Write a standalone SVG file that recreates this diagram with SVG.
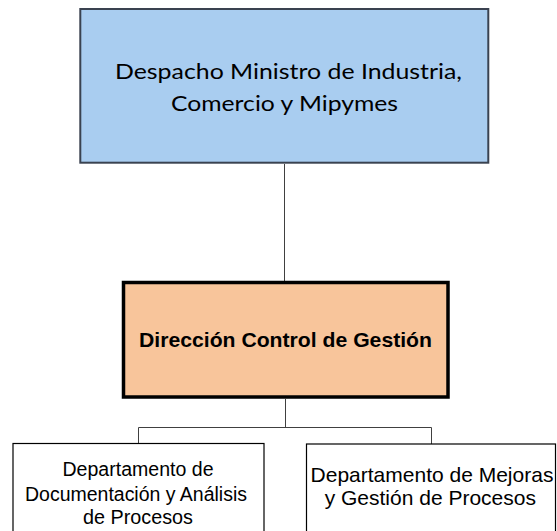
<svg xmlns="http://www.w3.org/2000/svg" width="557" height="531" viewBox="0 0 557 531">
<style>
.conn{stroke:#404040;stroke-width:1;fill:none}
.top{fill:#a9cdf0;stroke:#3a4250;stroke-width:2}
.mid{fill:#f8c59b;stroke:#000;stroke-width:3.5}
.dept{fill:#fff;stroke:#000;stroke-width:1.2}
.t1{font-family:Lato,"Open Sans",sans-serif;font-size:22px;fill:#000;text-anchor:middle}
.t2{font-family:"Liberation Sans",Arial,sans-serif;font-size:21px;font-weight:bold;fill:#000;text-anchor:middle}
.t3{font-family:"Liberation Sans",Arial,sans-serif;font-size:20px;fill:#000;text-anchor:middle}
.t4{font-family:"Liberation Sans",Arial,sans-serif;font-size:21px;fill:#000;text-anchor:middle}
</style>
<rect width="557" height="531" fill="#fff"/>
<g id="connectors">
<line class="conn" x1="284.5" y1="164" x2="284.5" y2="281"/>
<polyline class="conn" points="285.5,399 285.5,427.5"/>
<polyline class="conn" points="138.5,443.5 138.5,427.5 431.5,427.5 431.5,444"/>
</g>
<g id="despacho">
<rect class="top" x="80.3" y="9" width="408" height="153.7"/>
<text class="t1" x="288.5" y="79" textLength="347" lengthAdjust="spacingAndGlyphs">Despacho Ministro de Industria,</text>
<text class="t1" x="284.5" y="110.5" textLength="227" lengthAdjust="spacingAndGlyphs">Comercio y Mipymes</text>
</g>
<g id="direccion">
<rect class="mid" x="123.5" y="282.5" width="324.5" height="114.5"/>
<text class="t2" x="285.5" y="346.7" textLength="293" lengthAdjust="spacingAndGlyphs">Dirección Control de Gestión</text>
</g>
<g id="dept-documentacion">
<rect class="dept" x="13" y="443.5" width="251" height="100"/>
<text class="t3" x="138" y="476.4" textLength="151" lengthAdjust="spacingAndGlyphs">Departamento de</text>
<text class="t3" x="136" y="500.7" textLength="222" lengthAdjust="spacingAndGlyphs">Documentación y Análisis</text>
<text class="t3" x="138" y="524.4" textLength="110" lengthAdjust="spacingAndGlyphs">de Procesos</text>
</g>
<g id="dept-mejoras">
<rect class="dept" x="306.5" y="444" width="249" height="100"/>
<text class="t4" x="432" y="482.3">Departamento de Mejoras</text>
<text class="t4" x="430.3" y="505">y Gestión de Procesos</text>
</g>
</svg>
